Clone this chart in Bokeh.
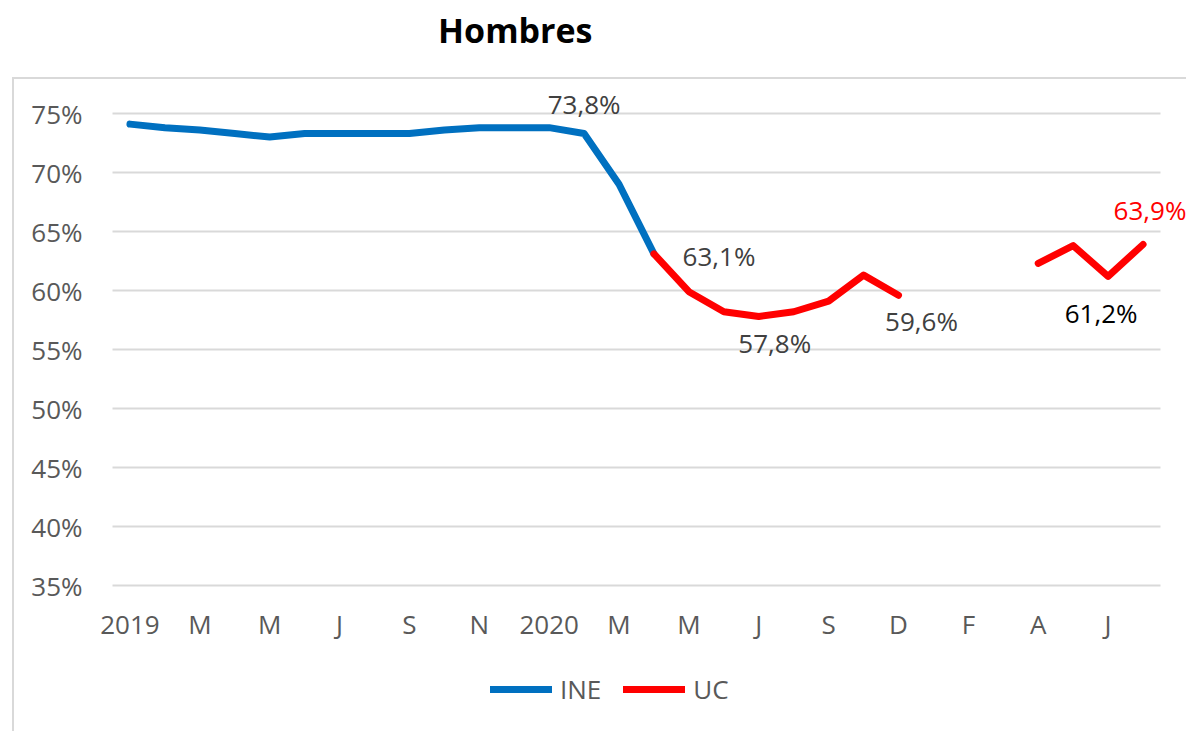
from bokeh.plotting import figure
from bokeh.models import (ColumnDataSource, FixedTicker, Label, Legend, LegendItem,
                          PrintfTickFormatter, InlineStyleSheet)
from bokeh.embed import file_html
from bokeh.resources import INLINE

nan = float("nan")

# ---- data ----
periods = list(range(30))  # monthly periods from Jan 2019
ine = [74.1, 73.8, 73.6, 73.3, 73.0, 73.3, 73.3, 73.3, 73.3, 73.6,
       73.8, 73.8, 73.8, 73.3, 69.0, 63.1] + [nan] * 14
uc = [nan] * 15 + [63.1, 59.9, 58.2, 57.8, 58.2, 59.1, 61.3, 59.6,
                   nan, nan, nan, 62.3, 63.8, 61.2, 63.9]
tick_positions = list(range(0, 30, 2))
tick_labels = ["2019", "M", "M", "J", "S", "N", "2020", "M", "M", "J",
               "S", "D", "F", "A", "J"]
y_ticks = [35, 40, 45, 50, 55, 60, 65, 70, 75]
label_idx = [12, 15, 18, 22, 28, 29]
label_series = ["ine", "uc", "uc", "uc", "uc", "uc"]
title_text = "Hombres"

# ---- styling / layout ----
FONT = "Open Sans"
BLUE = "#0070C0"
RED = "#FF0000"
GRAY_TXT = "#595959"
LBL_TXT = "#404040"
GRID = "#D9D9D9"

W, H = 1186, 731
PLOT_LEFT = 112                  # pixel column where the category axis starts
AXIS_Y = 585                     # pixel row of the 35% baseline
PX_PER_CAT = 1048 / 30           # category width in px
PX_PER_PCT = 11.8                # px per percentage point
cat_start = periods[0] - 0.5
x_start = cat_start - PLOT_LEFT / PX_PER_CAT
x_end = cat_start + (W - PLOT_LEFT) / PX_PER_CAT
y_start = y_ticks[0] - (H - AXIS_Y) / PX_PER_PCT
y_end = y_ticks[0] + AXIS_Y / PX_PER_PCT

src = ColumnDataSource(dict(x=periods, ine=ine, uc=uc))

p = figure(width=W, height=H, output_backend="svg", toolbar_location=None,
           x_range=(x_start, x_end), y_range=(y_start, y_end),
           min_border_left=0, min_border_right=0,
           min_border_top=0, min_border_bottom=0)
p.background_fill_color = "white"
p.border_fill_color = "white"
p.outline_line_color = None

# light chart-area border (left and top edges)
p.stylesheets = [InlineStyleSheet(css="""
:host { position: relative; }
:host::after { content: ""; position: absolute; left: 11.7px; top: 76.7px;
  right: 0; bottom: 0; border-left: 2px solid #D9D9D9;
  border-top: 2px solid #D9D9D9; pointer-events: none; }
""")]

# axes (pinned to the plot-area edges)
p.xaxis.ticker = FixedTicker(ticks=tick_positions)
p.xaxis.major_label_overrides = {t: l for t, l in zip(tick_positions, tick_labels)}
p.xaxis.fixed_location = y_ticks[0]
p.yaxis.ticker = FixedTicker(ticks=y_ticks)
p.yaxis.formatter = PrintfTickFormatter(format="%d%%")
p.yaxis.fixed_location = cat_start
for ax in (p.xaxis, p.yaxis):
    ax.axis_line_color = None
    ax.major_tick_line_color = None
    ax.minor_tick_line_color = None
    ax.major_label_text_font = FONT
    ax.major_label_text_font_size = "26px"
    ax.major_label_text_color = GRAY_TXT
p.xaxis.major_label_standoff = 14
p.yaxis.major_label_standoff = 24
p.xgrid.visible = False
p.ygrid.grid_line_color = GRID
p.ygrid.grid_line_width = 2
try:
    p.ygrid.cross_bounds = (cat_start, periods[-1] + 0.5)
except Exception:
    pass

r_ine = p.line("x", "ine", source=src, line_color=BLUE, line_width=7,
               line_cap="round", line_join="round")
r_uc = p.line("x", "uc", source=src, line_color=RED, line_width=7,
              line_cap="round", line_join="round")

# title (drawn inside the plot area)
p.add_layout(Label(x=11.03, y=82.1, text=title_text, text_align="center",
                   text_baseline="alphabetic", text_font=FONT,
                   text_font_size="34px", text_font_style="bold",
                   text_color="black"))

# data labels
offsets = [(35, 24), (65, -2), (16, -27), (23, -26), (-7, -37), (7, 34)]
colors = [LBL_TXT, LBL_TXT, LBL_TXT, LBL_TXT, "black", RED]
series = {"ine": ine, "uc": uc}
for i, s, (dx, dy), c in zip(label_idx, label_series, offsets, colors):
    v = series[s][i]
    txt = f"{v:.1f}".replace(".", ",") + "%"
    p.add_layout(Label(x=periods[i], y=v, text=txt, x_offset=dx, y_offset=dy,
                       text_align="center", text_baseline="middle",
                       text_font=FONT, text_font_size="26px", text_color=c))

legend = Legend(items=[LegendItem(label="INE", renderers=[r_ine]),
                       LegendItem(label="UC", renderers=[r_uc])],
                orientation="horizontal", location=(490, 24),
                label_text_font=FONT, label_text_font_size="26px",
                label_text_color=GRAY_TXT, glyph_width=62, label_standoff=8,
                spacing=22, padding=0, margin=0,
                border_line_alpha=0, background_fill_alpha=0)
p.add_layout(legend)

open("out.html", "w").write(file_html(p, INLINE))
